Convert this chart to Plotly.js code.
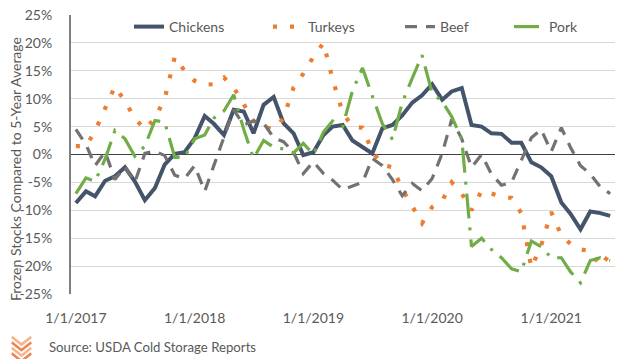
<!DOCTYPE html>
<html>
<head>
<meta charset="utf-8">
<script src="https://cdn.plot.ly/plotly-3.0.1.min.js"></script>
<style>
  html, body { margin: 0; padding: 0; background: #ffffff; }
  #chart { width: 624px; height: 362px; }
</style>
</head>
<body>
<div id="chart"></div>
<script>
// ---- Data (monthly, Jan 2017 - Jul 2021), % vs 5-year average ----
const months = [
  '2017-01-01','2017-02-01','2017-03-01','2017-04-01','2017-05-01','2017-06-01','2017-07-01','2017-08-01','2017-09-01','2017-10-01','2017-11-01','2017-12-01',
  '2018-01-01','2018-02-01','2018-03-01','2018-04-01','2018-05-01','2018-06-01','2018-07-01','2018-08-01','2018-09-01','2018-10-01','2018-11-01','2018-12-01',
  '2019-01-01','2019-02-01','2019-03-01','2019-04-01','2019-05-01','2019-06-01','2019-07-01','2019-08-01','2019-09-01','2019-10-01','2019-11-01','2019-12-01',
  '2020-01-01','2020-02-01','2020-03-01','2020-04-01','2020-05-01','2020-06-01','2020-07-01','2020-08-01','2020-09-01','2020-10-01','2020-11-01','2020-12-01',
  '2021-01-01','2021-02-01','2021-03-01','2021-04-01','2021-05-01','2021-06-01','2021-07-01'
];

const chickens = [
  -8.7, -6.6, -7.5, -4.7, -3.9, -2.3, -4.8, -8.2, -6.0, -1.8, 0.1, 0.4,
  2.9, 6.9, 5.5, 3.5, 8.0, 7.7, 3.8, 8.9, 10.3, 5.6, 3.8, -0.1,
  0.4, 3.5, 5.0, 5.3, 2.5, 1.4, 0.2, 4.7, 5.3, 7.0, 9.3, 10.6,
  12.6, 9.8, 11.3, 11.9, 5.3, 5.0, 3.8, 3.7, 2.1, 2.1, -1.4, -2.3,
  -3.9, -8.6, -10.6, -13.4, -10.2, -10.5, -11.0
];

const turkeys = [
  1.5, 1.5, 4.2, 8.5, 12.2, 9.5, 6.5, 4.5, 6.5, 10.0, 17.5, 15.0,
  13.2, 12.5, 12.6, 13.8, 12.0, 9.0, 6.0, 5.0, 4.5, 6.5, 12.0, 14.5,
  17.5, 20.0, 13.5, 7.5, 5.0, 4.8, 0.5, -1.8, -2.3, -6.2, -9.4, -12.3,
  -9.4, -8.3, -5.0, -7.0, -10.0, -6.5, -7.0, -7.5, -7.8, -10.5, -20.3, -16.3,
  -10.3, -14.5, -16.0, -17.0, -17.3, -20.0, -17.8
];

const beef = [
  4.5, 1.8, -2.0, 0.5, -4.5, -2.2, -5.0, 0.2, 0.6, -0.2, -3.7, -4.3,
  -2.0, -6.6, -2.0, 3.0, 8.0, 5.3, 6.0, 5.6, 3.0, 2.3, 0.4, -3.4,
  -1.3, -3.4, -4.6, -6.3, -5.6, -5.0, -0.7, -2.0, -4.5, -7.4, -5.2, -6.5,
  -4.3, 0.2, 6.3, 2.8, -2.3, 0.0, -3.5, -5.5, -5.0, -1.0, 3.0, 4.5,
  0.5, 4.8, 1.3, -2.0, -3.5, -5.8, -7.0
];

const pork = [
  -7.0, -4.2, -4.8, -0.8, 4.3, 2.8, -0.3, 1.5, 6.1, 5.8, -0.5, -0.5,
  2.8, 3.5, 6.5, 7.8, 10.7, 4.5, -0.7, 2.5, 1.3, 1.0, 0.3, 2.0,
  0.0, 4.0, 6.0, 5.0, 11.4, 15.5, 10.5, 5.5, 2.7, 9.3, 13.7, 17.8,
  11.0, 9.5, 6.8, 2.8, -16.5, -15.0, -17.0, -18.5, -20.5, -21.0, -15.5, -16.5,
  -18.5, -18.5, -21.0, -23.0, -19.0, -18.5, -19.0
];

const seriesNames = ['Chickens', 'Turkeys', 'Beef', 'Pork'];

const xTickVals = ['2017-01-01', '2018-01-01', '2019-01-01', '2020-01-01', '2021-01-01'];
const xTickText = ['1/1/2017', '1/1/2018', '1/1/2019', '1/1/2020', '1/1/2021'];
const yTickVals = [25, 20, 15, 10, 5, 0, -5, -10, -15, -20, -25];
const yTickText = ['25%', '20%', '15%', '10%', '5%', '0%', '-5%', '-10%', '-15%', '-20%', '-25%'];

const yTitle = 'Frozen Stocks Compared to 5-Year Average';
const sourceText = 'Source: USDA Cold Storage Reports';

// ---- Styling ----
const FONT = 'Lato, "Open Sans", "DejaVu Sans", sans-serif';
const TEXT = '#595959';

// plot area geometry (px) used to place legends / notes
const L = 71, R = 9, T = 15, B = 68, W = 624, H = 362;
const pw = W - L - R, ph = H - T - B;
const px2x = px => (px - L) / pw;
const py2y = py => (H - B - py) / ph;

const traces = [
  { y: chickens, name: seriesNames[0], line: { color: '#44546A', width: 4, dash: 'solid' }, legend: 'legend' },
  { y: turkeys,  name: seriesNames[1], line: { color: '#ED7D31', width: 4.2, dash: '4px,13px' }, legend: 'legend2' },
  { y: beef,     name: seriesNames[2], line: { color: '#767171', width: 3.2, dash: '12px,9px' }, legend: 'legend3' },
  { y: pork,     name: seriesNames[3], line: { color: '#70AD47', width: 3.2, dash: '25px,9px,3px,9px' }, legend: 'legend4' }
].map(t => Object.assign({
  type: 'scatter', mode: 'lines', x: months, hoverinfo: 'skip'
}, t));

function legendAt(pxLeft) {
  return {
    orientation: 'h', x: px2x(pxLeft), xanchor: 'left', xref: 'paper',
    y: py2y(27), yanchor: 'middle', yref: 'paper',
    bgcolor: 'rgba(0,0,0,0)', borderwidth: 0,
    font: { family: FONT, size: 14, color: TEXT }
  };
}

const logoSvg = '<svg xmlns="http://www.w3.org/2000/svg" width="60" height="54" viewBox="0 0 30 27">' +
  '<polyline points="1,1 15,10 29,1" fill="none" stroke="#F6B48C" stroke-width="3.2"/>' +
  '<polyline points="1,7.5 15,16.5 29,7.5" fill="none" stroke="#EE8550" stroke-width="3.2"/>' +
  '<polyline points="1,14 15,23 29,14" fill="none" stroke="#F6B48C" stroke-width="3.2"/>' +
  '<polyline points="1,20.5 15,29.5 29,20.5" fill="none" stroke="#EE8550" stroke-width="3.2"/>' +
  '</svg>';

const layout = {
  width: W, height: H,
  margin: { l: L, r: R, t: T, b: B, pad: 0 },
  paper_bgcolor: '#ffffff', plot_bgcolor: '#ffffff',
  font: { family: FONT, size: 14, color: TEXT },
  showlegend: true,
  legend: legendAt(129),
  legend2: legendAt(268),
  legend3: legendAt(400),
  legend4: legendAt(509),
  xaxis: {
    type: 'date',
    range: ['2016-12-17', '2021-07-16'],
    tickmode: 'array', tickvals: xTickVals, ticktext: xTickText,
    showgrid: false, zeroline: false, showline: false, ticks: '',
    tickfont: { family: FONT, size: 14, color: TEXT },
    ticklabelstandoff: 14,
    automargin: false, fixedrange: true
  },
  yaxis: {
    range: [-25, 25],
    tickmode: 'array', tickvals: yTickVals, ticktext: yTickText,
    showgrid: true, gridcolor: '#D9D9D9', gridwidth: 1,
    zeroline: true, zerolinecolor: '#404040', zerolinewidth: 1.3,
    showline: true, linecolor: '#7F7F7F', linewidth: 2,
    ticks: '', ticklabelstandoff: 14,
    tickfont: { family: FONT, size: 14, color: TEXT },
    automargin: false, fixedrange: true
  },
  annotations: [
    {
      text: yTitle, xref: 'paper', yref: 'paper',
      x: px2x(15), y: py2y(169), xanchor: 'center', yanchor: 'middle',
      textangle: -90, showarrow: false,
      font: { family: FONT, size: 14, color: TEXT }
    },
    {
      text: sourceText, xref: 'paper', yref: 'paper',
      x: px2x(47), y: py2y(347), xanchor: 'left', yanchor: 'middle',
      showarrow: false,
      font: { family: FONT, size: 13.2, color: TEXT }
    }
  ],
  images: [
    {
      source: 'data:image/svg+xml;charset=utf-8,' + encodeURIComponent(logoSvg),
      xref: 'paper', yref: 'paper',
      x: px2x(11), y: py2y(336), sizex: 21 / pw, sizey: 23 / ph,
      xanchor: 'left', yanchor: 'top', sizing: 'stretch', layer: 'above'
    }
  ]
};

Plotly.newPlot('chart', traces, layout, { staticPlot: true, displayModeBar: false });
</script>
</body>
</html>
